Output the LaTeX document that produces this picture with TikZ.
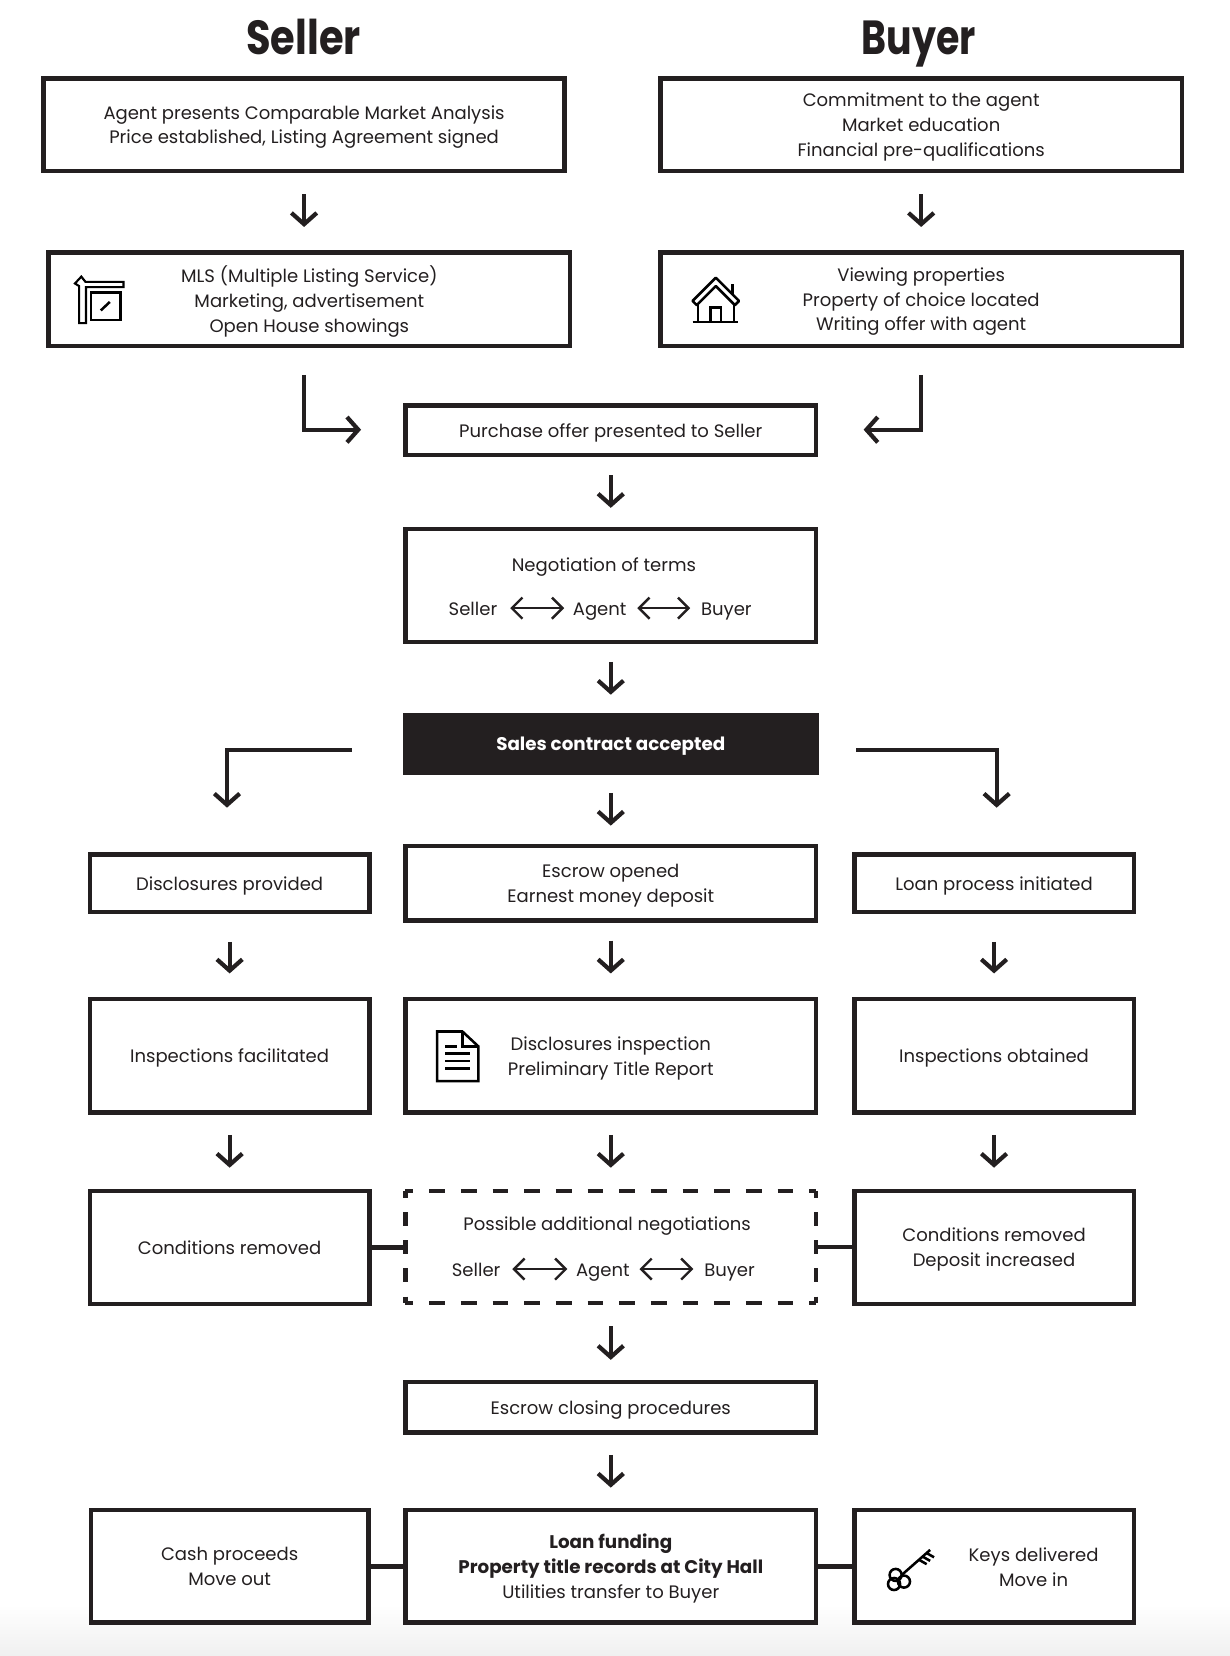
\documentclass[tikz,border=0pt]{standalone}
\usepackage{fontspec}
\setmainfont{Poppins}[BoldFont=* Bold]
\usetikzlibrary{arrows.meta,positioning}
\definecolor{ink}{HTML}{231F20}
\newcommand{\Strong}[1]{{\fontsize{13pt}{17.6pt}\selectfont\bfseries #1}}
\tikzset{
	Size/.style 2 args={minimum width=#1*0.75pt-3.2pt, minimum height=#2*0.75pt-3.2pt},
	Gap/.style 2 args={shorten <=#1*0.75pt, shorten >=#2*0.75pt}
}

\begin{document}
\begin{tikzpicture}[x=0.75pt,y=-0.75pt]
		\tikzstyle{Box}		= [draw=ink, line width=3.2pt, fill=white, inner sep=0pt, text=ink, align=center, text depth=-3.2pt, font=\fontsize{12.8pt}{17.6pt}\selectfont]
		\tikzstyle{Plain}	= [inner sep=0pt, text=ink, align=center, text depth=-3.2pt, font=\fontsize{12.8pt}{17.6pt}\selectfont]
		\tikzstyle{Row}		= [Plain, text height=10pt, text depth=0pt]
		\tikzstyle{Title}	= [inner sep=0pt, text=ink, text height=24pt, text depth=0pt, font=\fontsize{34pt}{36pt}\selectfont\bfseries, xscale=0.835]
		\tikzstyle{Arrow}	= [draw=ink, line width=3pt, -{Straight Barb[length=8pt,width=18pt,line width=3pt]}]
		\tikzstyle{Both}	= [draw=ink, line width=1.7pt, {Straight Barb[length=7.5pt,width=15pt]}-{Straight Barb[length=7.5pt,width=15pt]}]
		\tikzstyle{Link}	= [draw=ink, line width=3.2pt]
		\tikzstyle{Side}	= [draw=ink, line width=3.2pt]
		\tikzstyle{Icon}	= [draw=black, line width=1.8pt, line join=miter]

		\useasboundingbox (0,0) rectangle (1165,1568.5);
		\shade [top color=white, bottom color=black!6] (0,1520) rectangle (1165,1568.5);

		\node (seller) at (287.5,36) [Title] {Seller};
		\node (buyer) at (870.5,36) [Title, xscale=0.95] {Buyer};

		\node (a1) at (288,118) [Box, Size={498}{92}] {Agent presents Comparable Market Analysis\\Price established, Listing Agreement signed};
		\node (b1) at (872.5,118) [Box, Size={498}{92}] {Commitment to the agent\\Market education\\Financial pre-qualifications};
		\node (a2) at (293,283.5) [Box, Size={498}{93}] {MLS (Multiple Listing Service)\\Marketing, advertisement\\Open House showings};
		\node (b2) at (872.5,283.5) [Box, Size={498}{93}] {Viewing properties\\Property of choice located\\Writing offer with agent};

		\node (offer) at (578.5,407.5) [Box, Size={393}{51}] {Purchase offer presented to Seller};
		\node (terms) at (578.5,554.5) [Box, Size={393}{111}] {};
		\node (termstext) at (572,535) [Plain] {Negotiation of terms};
		\node (ts) at (448,576) [Row] {Seller};
		\node (tg) at (568,576) [Row] {Agent};
		\node (tb) at (688,576) [Row] {Buyer};
		\node (sales) at (578.5,704.5) [Box, fill=ink, text=white, font=\Strong{}, Size={394}{59}] {\Strong{Sales contract accepted}};

		\node (d1) at (217.5,836.5) [Box, Size={269}{59}] {Disclosures provided};
		\node (e1) at (578.5,836.5) [Box, Size={393}{75}] {Escrow opened\\Earnest money deposit};
		\node (l1) at (941.5,836.5) [Box, Size={269}{59}] {Loan process initiated};
		\node (d2) at (217.5,1000) [Box, Size={269}{112}] {Inspections facilitated};
		\node (e2) at (578.5,1000) [Box, Size={393}{112}] {Disclosures inspection\\Preliminary Title Report};
		\node (l2) at (941.5,1000) [Box, Size={269}{112}] {Inspections obtained};
		\node (d3) at (217.5,1181.5) [Box, Size={269}{111}] {Conditions removed};
		\node (e3) at (578.5,1181) [Plain, line width=3.2pt, Size={393}{110}] {};
		\node (e3text) at (575,1159) [Plain] {Possible additional negotiations};
		\node (ps) at (451,1202) [Row] {Seller};
		\node (pg) at (571,1202) [Row] {Agent};
		\node (pb) at (691,1202) [Row] {Buyer};
		\node (l3) at (941.5,1181.5) [Box, Size={269}{111}] {Conditions removed\\Deposit increased};
		\node (close) at (578.5,1333) [Box, Size={393}{52}] {Escrow closing procedures};
		\node (d4) at (217.5,1483.5) [Box, Size={267}{111}] {Cash proceeds\\Move out};
		\node (e4) at (578.5,1483.5) [Box, Size={393}{111}] {\Strong{Loan funding}\\\Strong{Property title records at City Hall}\\Utilities transfer to Buyer};
		\node (l4) at (941.5,1483.5) [Box, Size={269}{111}] {};
		\node (l4text) at (979,1484) [Plain] {Keys delivered\\Move in};

		% free ends of the bent arrows
		\coordinate (as) at (288,355);
		\coordinate (ae) at (342,407);
		\coordinate (bs) at (872,355);
		\coordinate (be) at (818,407);
		\coordinate (ls) at (333,710);
		\coordinate (le) at (215,765);
		\coordinate (rs) at (811,710);
		\coordinate (re) at (944,765);

		\draw [Arrow, Gap={20}{22}] (a1.south) to (a1.south |- a2.north);
		\draw [Arrow, Gap={20}{22}] (b1) to (b2);
		\draw [Arrow] (as) |- (ae);
		\draw [Arrow] (bs) |- (be);
		\draw [Arrow, Gap={17}{18}] (offer) to (terms);
		\draw [Arrow, Gap={17}{17}] (terms) to (sales);
		\draw [Arrow] (ls) -| (le);
		\draw [Arrow] (rs) -| (re);
		\draw [Arrow, Gap={17}{17}] (sales) to (e1);
		\draw [Arrow, Gap={26}{22}] (d1) to (d2);
		\draw [Arrow, Gap={17}{22}] (e1) to (e2);
		\draw [Arrow, Gap={26}{22}] (l1) to (l2);
		\draw [Arrow, Gap={19}{20}] (d2) to (d3);
		\draw [Arrow, Gap={19}{20}] (e2) to (e3);
		\draw [Arrow, Gap={19}{20}] (l2) to (l3);
		\draw [Arrow, Gap={20}{19}] (e3) to (close);
		\draw [Arrow, Gap={19}{19}] (close) to (e4);

		\draw [Link] (d3.east) to (d3.east -| e3.west);
		\draw [Link] (e3.east) to (e3.east -| l3.west);
		\draw [Link] (d4) to (e4);
		\draw [Link] (e4) to (l4);

		\draw [Both, Gap={12}{8}] (ts) to (tg);
		\draw [Both, Gap={10}{10}] (tg) to (tb);
		\draw [Both, Gap={11}{8}] (ps) to (pg);
		\draw [Both, Gap={9}{10}] (pg) to (pb);

		% dashed box, each side on its own beat
		\draw [Side, dash pattern=on 11.25pt off 11.25pt, dash phase=5.6pt] (384,1128) to (773,1128);
		\draw [Side, dash pattern=on 11.25pt off 11.25pt, dash phase=5.6pt] (384,1234) to (773,1234);
		\draw [Side, dash pattern=on 10pt off 10pt, dash phase=5pt] (384,1128) to (384,1234);
		\draw [Side, dash pattern=on 10pt off 10pt, dash phase=5pt] (773,1128) to (773,1234);

		% sign
		\draw [Icon, line width=1.5pt] (77,262) -- (71,268.5) -- (75,271) -- (75,306) -- (81.5,306) -- (81.5,272) -- (117,272) -- (117,267) -- (81,267) -- cycle;
		\draw [Icon, fill=white] (86,277) rectangle (114,303);
		\draw [Icon] (95.5,294) -- (104,286);

		% house
		\draw [Icon, line join=round] (656,285) -- (678,263) -- (700,285) -- (696,289) -- (678,271) -- (660,289) -- cycle;
		\draw [Icon] (661,288) -- (661,305);
		\draw [Icon] (695,288) -- (695,305);
		\draw [Icon] (694,279) -- (694,269);
		\draw [Icon] (656,305) -- (699,305);
		\draw [Icon] (673,305) -- (673,291) -- (683,291) -- (683,305);

		% page
		\draw [Icon] (414,977) -- (438,977) -- (453,991) -- (453,1024) -- (414,1024) -- cycle;
		\draw [Icon] (438,977) -- (438,991) -- (453,991);
		\draw [Icon] (421.5,991) -- (432.5,991);
		\draw [Icon] (421.5,998) -- (445,998);
		\draw [Icon] (421.5,1005) -- (445,1005);
		\draw [Icon] (421.5,1012) -- (445,1012);

		% key
		\draw [Icon] (848.3,1491.7) circle [radius=5.7];
		\draw [Icon] (856.2,1498) circle [radius=5.7];
		\draw [Icon] (846.8,1500.3) circle [radius=5.7];
		\draw [Icon] (854,1491.8) -- (881,1468);
		\draw [Icon] (877.7,1471) -- (884.7,1475);
		\draw [Icon] (874,1474.4) -- (881,1478.4);
		\draw [Icon] (870.7,1477.5) -- (877.7,1481.5);
	\end{tikzpicture}
\end{document}
